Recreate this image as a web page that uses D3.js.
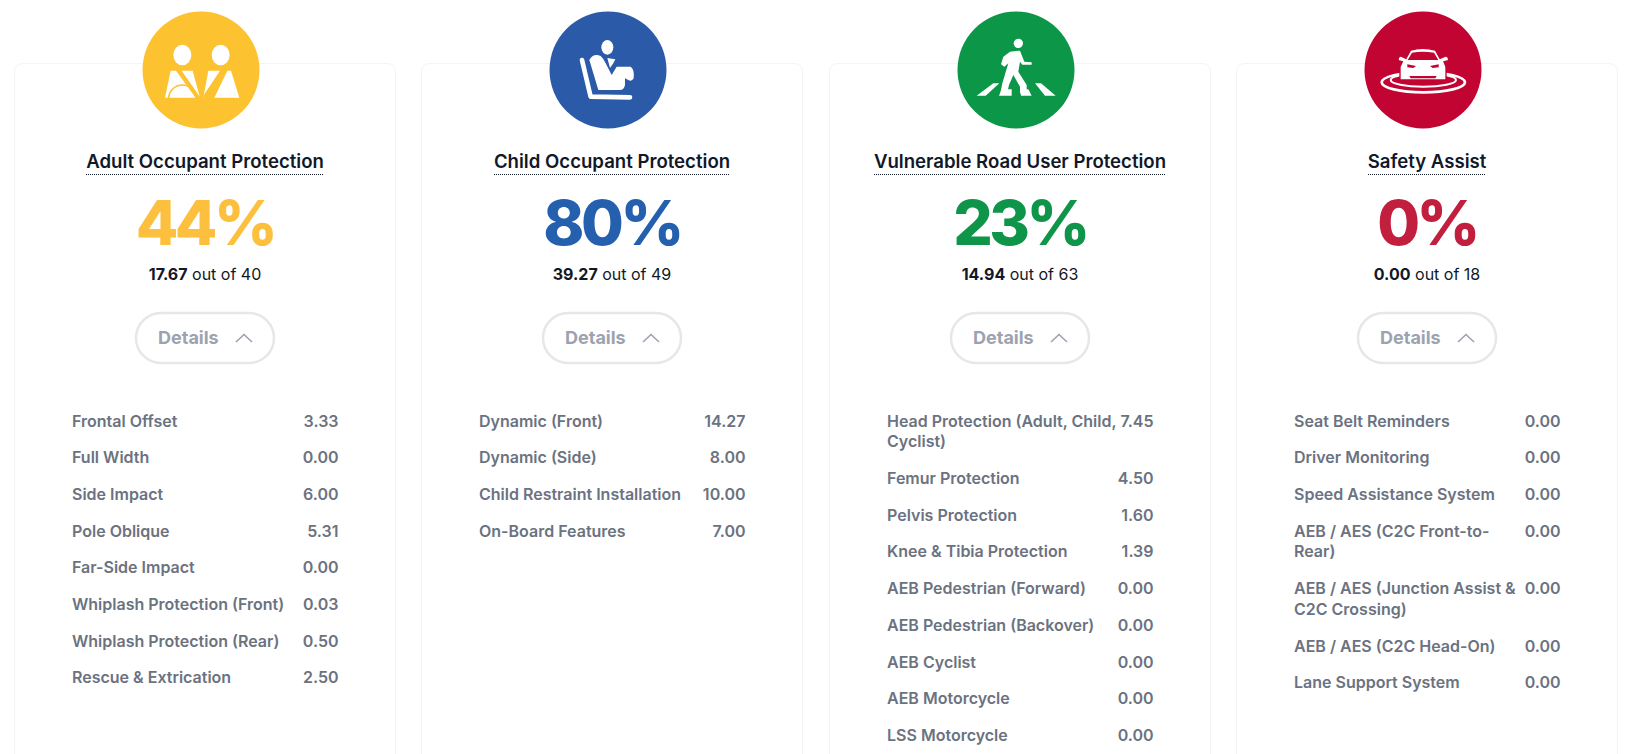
<!DOCTYPE html>
<html>
<head>
<meta charset="utf-8">
<script src="https://cdn.jsdelivr.net/npm/d3@7"></script>
<style>
  html, body { margin: 0; background: #fff; overflow: hidden; }
  text { font-family: Inter, "Noto Sans", sans-serif; }
</style>
</head>
<body>
<div id="chart"></div>
<script>
const categories = ["Adult Occupant Protection", "Child Occupant Protection", "Vulnerable Road User Protection", "Safety Assist"];
const percents = [44, 80, 23, 0];
const scores = [17.67, 39.27, 14.94, 0];
const maxScores = [40, 49, 63, 18];
const circleColors = ["#fdc22f", "#2b5ba8", "#0c9648", "#c10431"];
const percentColors = ["#fcc03e", "#2460ae", "#0f9549", "#c21e3d"];

// "|" marks where a label wraps in the reference
const rowLabels = [
  ["Frontal Offset", "Full Width", "Side Impact", "Pole Oblique", "Far-Side Impact", "Whiplash Protection (Front)", "Whiplash Protection (Rear)", "Rescue & Extrication"],
  ["Dynamic (Front)", "Dynamic (Side)", "Child Restraint Installation", "On-Board Features"],
  ["Head Protection (Adult, Child,|Cyclist)", "Femur Protection", "Pelvis Protection", "Knee & Tibia Protection", "AEB Pedestrian (Forward)", "AEB Pedestrian (Backover)", "AEB Cyclist", "AEB Motorcycle", "LSS Motorcycle"],
  ["Seat Belt Reminders", "Driver Monitoring", "Speed Assistance System", "AEB / AES (C2C Front-to-|Rear)", "AEB / AES (Junction Assist &|C2C Crossing)", "AEB / AES (C2C Head-On)", "Lane Support System"]
];
const rowValues = [
  [3.33, 0, 6, 5.31, 0, 0.03, 0.5, 2.5],
  [14.27, 8, 10, 7],
  [7.45, 4.5, 1.6, 1.39, 0, 0, 0, 0, 0],
  [0, 0, 0, 0, 0, 0, 0]
];

const width = 1634, height = 754;
const svg = d3.select("#chart").append("svg").attr("width", width).attr("height", height);

const cardW = 381;
const x = d3.scalePoint().domain(categories).range([205, 1427]);
const fmt = d3.format(".2f");

const cards = svg.selectAll("g.card")
  .data(categories)
  .enter().append("g")
  .attr("class", "card")
  .attr("transform", d => `translate(${Math.round(x(d))},0)`);

cards.append("rect")
  .attr("x", -cardW / 2).attr("y", 63.5)
  .attr("width", cardW).attr("height", 800)
  .attr("rx", 8)
  .attr("fill", "#fff")
  .attr("stroke", "#f3f4f6");

cards.append("circle")
  .attr("cx", -4).attr("cy", 70).attr("r", 58.5)
  .attr("fill", (d, i) => circleColors[i]);

// icons are traced in 3x zoom pixels around the circle centre
const place = (g, cx, cy) => g.attr("transform", `translate(-4,70) scale(0.3333) translate(${-cx},${-cy})`);
const icons = [
  g => {
    place(g, 153, 120);
    g.append("ellipse").attr("cx", 97).attr("cy", 75).attr("rx", 27).attr("ry", 31);
    g.append("ellipse").attr("cx", 212).attr("cy", 75).attr("rx", 27).attr("ry", 31);
    g.append("path").attr("d", "M62 122L78 122L137 203L45 203Z");
    g.append("path").attr("d", "M95 122L128 122L150 203L148 198Z");
    g.append("path").attr("d", "M56 206A41 41 0 0 1 138 206").attr("fill", "none").attr("stroke", "#fdc22f").attr("stroke-width", 5);
    g.append("path").attr("d", "M175 122L210 122L160 197L160 203Z");
    g.append("path").attr("d", "M232 122L243 122L268 203L193 203Z");
  },
  g => {
    place(g, 144, 120);
    g.append("ellipse").attr("cx", 142).attr("cy", 52).attr("rx", 18).attr("ry", 22);
    g.append("path").attr("d", "M66 90L92 200L210 202").attr("fill", "none").attr("stroke", "#fff").attr("stroke-width", 14).attr("stroke-linecap", "round").attr("stroke-linejoin", "round");
    g.append("path").attr("d", "M88 90Q100 68 122 78Q130 85 137 100L155 135L170 110L212 110Q224 118 221 145Q215 156 205 150L195 145L195 165Q192 180 180 180L115 180Z");
    g.append("path").attr("d", "M142 84L166 88L160 100L150 114Z");
  },
  g => {
    place(g, 153, 120);
    g.append("circle").attr("cx", 160).attr("cy", 40).attr("r", 14);
    g.append("path").attr("d", "M135 65L165 62L178 95L200 97L200 104L172 104L165 95L160 125L185 165L185 190L165 190L165 170L145 135L132 165L125 195L105 195L112 160L130 100L118 110L108 103L115 80Z");
    g.append("path").attr("d", "M35 197L85 160L103 160L62 197Z");
    g.append("path").attr("d", "M102 197L110 178L140 178L140 197Z");
    g.append("path").attr("d", "M168 197L165 178L190 178L200 197Z");
    g.append("path").attr("d", "M240 197L210 160L228 160L272 197Z");
  },
  g => {
    place(g, 159, 120);
    g.append("ellipse").attr("cx", 160).attr("cy", 157).attr("rx", 125).attr("ry", 30).attr("fill", "none").attr("stroke", "#fff").attr("stroke-width", 8);
    g.append("ellipse").attr("cx", 160).attr("cy", 150).attr("rx", 98).attr("ry", 20).attr("fill", "none").attr("stroke", "#fff").attr("stroke-width", 6);
    g.append("path").attr("d", "M108 85L122 60Q158 50 196 60L210 85L228 78Q238 82 235 92L222 95L228 110L228 150L90 150L90 110L97 95L85 92Q82 82 92 78Z").attr("stroke", "#c10431").attr("stroke-width", 4);
    g.append("path").attr("d", "M113 90L126 68Q158 62 192 68L205 90Z").attr("fill", "#c10431");
    g.append("path").attr("d", "M112 103L138 108L130 114L112 112Z").attr("fill", "#c10431");
    g.append("path").attr("d", "M206 103L180 108L188 114L206 112Z").attr("fill", "#c10431");
    g.append("path").attr("d", "M118 138L200 138L196 145L122 145Z").attr("fill", "#c10431");
  }
];

cards.append("g")
  .attr("fill", "#fff")
  .each(function (d, i) { icons[i](d3.select(this)); });

const titles = cards.append("text")
  .attr("text-anchor", "middle")
  .attr("y", 168)
  .attr("font-size", 18.6)
  .attr("font-weight", 600)
  .attr("fill", "#111827")
  .text(d => d);

titles.each(function () {
  const w = Math.round(this.getComputedTextLength() / 2);
  d3.select(this.parentNode).append("line")
    .attr("x1", -w).attr("x2", w)
    .attr("y1", 174.5).attr("y2", 174.5)
    .attr("stroke", "#111827")
    .attr("stroke-dasharray", "1 1");
});

cards.append("text")
  .attr("text-anchor", "middle")
  .attr("x", 0)
  .attr("y", 245)
  .attr("font-size", 62)
  .attr("font-weight", 800)
  .attr("letter-spacing", -3.5)
  .attr("fill", (d, i) => percentColors[i])
  .text((d, i) => percents[i] + "%");

const sub = cards.append("text")
  .attr("text-anchor", "middle")
  .attr("y", 280)
  .attr("font-size", 16)
  .attr("fill", "#111827");
sub.append("tspan").attr("font-weight", 700).text((d, i) => fmt(scores[i]));
sub.append("tspan").text((d, i) => " out of " + maxScores[i]);

cards.append("rect")
  .attr("x", -69).attr("y", 313)
  .attr("width", 138).attr("height", 50)
  .attr("rx", 25)
  .attr("fill", "#fff")
  .attr("stroke", "#e5e7eb")
  .attr("stroke-width", 2.5);

cards.append("text")
  .attr("x", -47)
  .attr("y", 343.5)
  .attr("font-size", 18)
  .attr("font-weight", 700)
  .attr("fill", "#9ca3af")
  .text("Details");

cards.append("path")
  .attr("d", "M31 342L39 334.5L47 342")
  .attr("fill", "none")
  .attr("stroke", "#9ca3af")
  .attr("stroke-width", 1.6);

// rows: one line is 36.7 high, every wrapped line adds 20.8
const lineH = 20.8, rowH = 36.7;
cards.each(function (d, i) {
  let y = 426.5;
  const rows = d3.select(this).selectAll("g.row")
    .data(rowLabels[i])
    .enter().append("g")
    .attr("class", "row")
    .attr("fill", "#6b7280")
    .attr("font-size", 16)
    .attr("font-weight", 600);
  rows.each(function (label, j) {
    const lines = label.split("|");
    const row = d3.select(this).attr("transform", `translate(0,${y})`);
    lines.forEach((line, k) => {
      row.append("text").attr("x", -133).attr("y", k * lineH).text(line);
    });
    row.append("text").attr("x", 133.5).attr("text-anchor", "end").text(fmt(rowValues[i][j]));
    y += rowH + (lines.length - 1) * lineH;
  });
});
</script>
</body>
</html>
